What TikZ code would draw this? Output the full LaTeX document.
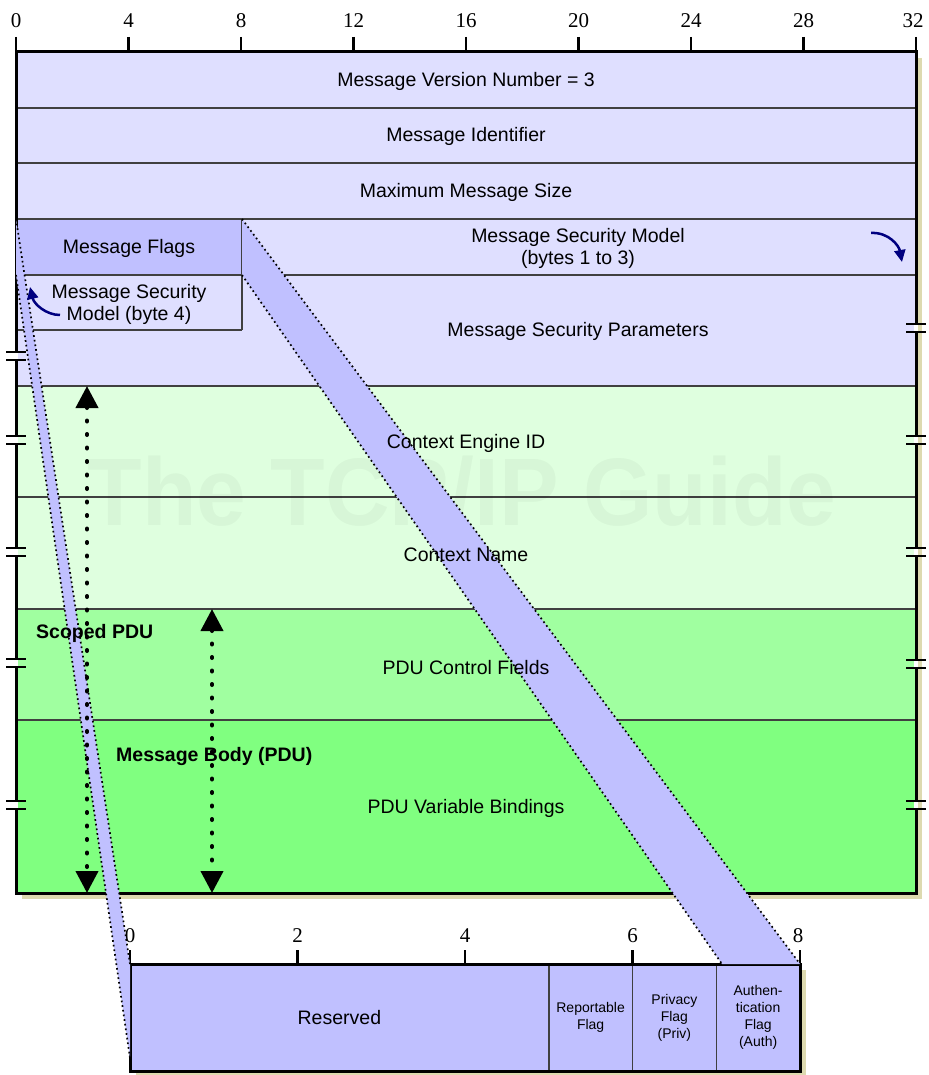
\documentclass[tikz,border=0pt]{standalone}
\usepackage{fontspec}
\setmainfont{Liberation Sans}
\newfontfamily\rulerfont{Liberation Serif}
\usetikzlibrary{arrows.meta}
\definecolor{lav}{RGB}{223,223,255}
\definecolor{lavdark}{RGB}{192,192,255}
\definecolor{ctx}{RGB}{223,255,223}
\definecolor{pductl}{RGB}{160,255,160}
\definecolor{pduvar}{RGB}{128,255,128}
\definecolor{shadowc}{RGB}{221,218,176}
\definecolor{sepc}{RGB}{64,64,64}
\definecolor{navyarr}{RGB}{0,0,128}
\begin{document}
\begin{tikzpicture}[x=1pt,y=-1pt,
  lbl/.style={font=\fontsize{19.5}{22}\selectfont, align=center, inner sep=0pt},
  smalllbl/.style={font=\fontsize{14}{17}\selectfont, align=center, inner sep=0pt},
  boldlbl/.style={font=\bfseries\fontsize{19.5}{22}\selectfont, inner sep=0pt, anchor=west},
  rulernum/.style={font=\rulerfont\fontsize{21}{21}\selectfont, inner sep=0pt},
  sep/.style={draw=sepc, line width=1.5pt},
  border/.style={draw=black, line width=3pt},
  tick/.style={draw=black, line width=2.5pt},
  bandedge/.style={draw=black, line width=1.7pt, dash pattern=on 1.7pt off 3pt},
  dotarrow/.style={draw=black, line width=4pt, dash pattern=on 1pt off 12.5pt, line cap=round,
     {Triangle[width=22pt,length=22pt]}-{Triangle[width=22pt,length=22pt]}},
  curvarrow/.style={draw=navyarr, line width=2.5pt, -{Triangle[width=11pt,length=12pt]}},
  cell/.style={draw=sepc, line width=1.5pt, fill=lavdark, minimum height=107pt, inner sep=0pt},
  brk/.style={draw=black, line width=2.5pt}
]
\useasboundingbox (0,0) rectangle (928,1075);

% shadows
\fill[shadowc] (22,58) rectangle (922,899);
\fill[shadowc] (136,970) rectangle (806,1078);

% row fills
\fill[lav] (16,52) rectangle (916,386);
\fill[ctx] (16,386) rectangle (916,609);
\fill[pductl] (16,609) rectangle (916,720);
\fill[pduvar] (16,720) rectangle (916,893);
\fill[lavdark] (16,219) rectangle (242,275);

% separators
\draw[sep] (16,108) -- (916,108);
\draw[sep] (16,163) -- (916,163);
\draw[sep] (16,219) -- (916,219);
\draw[sep] (16,275) -- (916,275);
\draw[sep] (16,330) -- (242,330);
\draw[sep] (242,219) -- (242,330);
\draw[sep] (16,386) -- (916,386);
\draw[sep] (16,497) -- (916,497);
\draw[sep] (16,609) -- (916,609);
\draw[sep] (16,720) -- (916,720);

% outer border and ruler
\draw[border] (16,52) rectangle (916,893);
\foreach \k in {0,1,2,3,4,5,6,7,8} {
  \draw[tick] ({16+112.5*\k},37) -- ({16+112.5*\k},52);
}
\foreach \k/\lab in {0/0,1/4,2/8,3/12,4/16,5/20,6/24,7/28} {
  \node[rulernum] (rn\lab) at ({16+112.5*\k},21) {\lab};
}
\node[rulernum] (rn32) at (913,21) {32};

% break marks
\foreach \bx/\by in {16/356,16/440,16/552,16/663,16/805,916/328,916/440,916/552,916/664,916/805} {
  \fill[white] (\bx-2,\by-3) rectangle (\bx+2,\by+3);
  \draw[brk] (\bx-10,\by-4) -- (\bx+10,\by-4);
  \draw[brk] (\bx-10,\by+4) -- (\bx+10,\by+4);
}

% watermark
\node[anchor=base, inner sep=0pt, text=black, text opacity=0.035,
      font=\bfseries\fontsize{96}{96}\selectfont] (wm) at (462,525)
      {\scalebox{0.93}[1]{The TCP/IP Guide}};

% detail box
\node[cell, minimum width=418.75pt] (reserved) at (339.375,1017.5) {};
\node[cell, minimum width=83.75pt] (report) at (590.625,1017.5) {};
\node[cell, minimum width=83.75pt] (priv) at (674.375,1017.5) {};
\node[cell, minimum width=83.75pt] (auth) at (758.125,1017.5) {};
\draw[border] (130,964) rectangle (800,1071);
\foreach \k in {0,1,2,3,4} {
  \draw[tick] ({130+167.5*\k},950) -- ({130+167.5*\k},964);
}
\foreach \k/\lab in {0/0,1/2,2/4,3/6} {
  \node[rulernum] (dn\lab) at ({130+167.5*\k},936) {\lab};
}
\node[rulernum] (dn8) at (798,936) {8};

% projection bands
\coordinate (fTL) at (16,219);
\coordinate (fBL) at (16,275);
\coordinate (fTR) at (242,219);
\coordinate (fBR) at (242,275);
\coordinate (dTL) at (130,964);
\coordinate (dBL) at (130,1058);
\coordinate (dTR) at (800,964);
\coordinate (dAuth) at (722,964);
\fill[lavdark] (fTL) -- (dTL) -- (dBL) -- (fBL) -- cycle;
\fill[lavdark] (fTR) -- (dTR) -- (dAuth) -- (fBR) -- cycle;
\draw[bandedge] (fTL) -- (dTL);
\draw[bandedge] (fBL) -- (dBL);
\draw[bandedge] (fTR) -- (dTR);
\draw[bandedge] (fBR) -- (dAuth);

% texts
\node[lbl] (ver) at (466,81) {Message Version Number = 3};
\node[lbl] (ident) at (466,136) {Message Identifier};
\node[lbl] (maxsize) at (466,192) {Maximum Message Size};
\node[lbl] (flags) at (129,248) {Message Flags};
\node[lbl] (secmod) at (578,248) {Message Security Model\\(bytes 1 to 3)};
\node[lbl] (secmod4) at (129,304) {Message Security\\Model (byte 4)};
\node[lbl] (secpar) at (578,331) {Message Security Parameters};
\node[lbl] (ctxeng) at (466,443) {Context Engine ID};
\node[lbl] (ctxname) at (466,555) {Context Name};
\node[lbl] (pductl) at (466,668) {PDU Control Fields};
\node[lbl] (pduvar) at (466,808) {PDU Variable Bindings};
\node[boldlbl] (scoped) at (36,633) {Scoped PDU};
\node[boldlbl] (msgbody) at (116,756) {Message Body (PDU)};
\node[lbl] at (reserved) {Reserved};
\node[smalllbl] at (report) {Reportable\\Flag};
\node[smalllbl] at (priv) {Privacy\\Flag\\(Priv)};
\node[smalllbl] at (auth) {Authen-\\tication\\Flag\\(Auth)};

% dotted double arrows
\coordinate (sTop) at (87,386);
\coordinate (sBot) at (87,893);
\coordinate (mTop) at (212,609);
\coordinate (mBot) at (212,893);
\draw[dotarrow] (sTop) -- (sBot);
\draw[dotarrow] (mTop) -- (mBot);

% curved arrows
\coordinate (cr1) at (871,233);
\coordinate (cr2) at (902,262);
\coordinate (cl1) at (60,315);
\coordinate (cl2) at (30,287);
\draw[curvarrow] (cr1) .. controls (889,232) and (899,246) .. (cr2);
\draw[curvarrow] (cl1) .. controls (46,315) and (34,304) .. (cl2);
\end{tikzpicture}
\end{document}
